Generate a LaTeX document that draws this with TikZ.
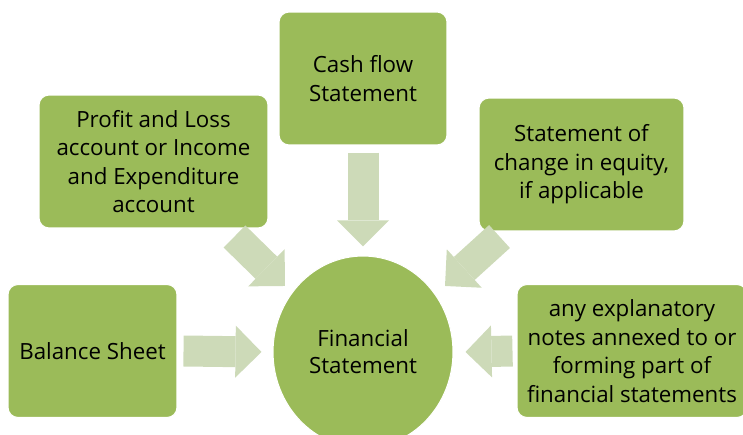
\documentclass[tikz,border=0pt]{standalone}
\usepackage{fontspec}
\setmainfont{Open Sans}
\usetikzlibrary{shapes.geometric,arrows.meta}

\definecolor{boxgreen}{HTML}{9BBB59}
\definecolor{arrowgreen}{HTML}{CDDAB8}

\tikzset{
  stmtbox/.style={draw=white, line width=0.6pt, fill=boxgreen, rounded corners=0.2cm,
    align=center, inner sep=0pt, minimum height=2.66cm,
    font=\fontsize{12.7}{16.2}\selectfont},
  blockarrow/.style={draw=arrowgreen, line width=0.62cm,
    -{Triangle[length=0.52cm,width=1.04cm,line width=0pt]}}
}

\begin{document}
\begin{tikzpicture}[x=0.02cm, y=-0.02cm]
  \useasboundingbox (0,0) rectangle (743,435);

  % Centre
  \node[ellipse, draw=white, line width=0.6pt, fill=boxgreen, inner sep=0pt,
    minimum width=3.6cm, minimum height=3.84cm, align=center,
    font=\fontsize{12.7}{15.4}\selectfont] (fs) at (363,352) {Financial\\Statement};

  % Boxes
  \node[stmtbox, minimum width=3.38cm] (bs) at (92.5,351) {Balance Sheet};
  \node[stmtbox, minimum width=4.58cm] (pl) at (153.5,161.5)
    {Profit and Loss\\account or Income\\and Expenditure\\account};
  \node[stmtbox, minimum width=3.36cm] (cf) at (363,78.5) {Cash flow\\Statement};
  \node[stmtbox, minimum width=4.1cm] (sc) at (581.5,164.5)
    {Statement of\\change in equity,\\if applicable};
  \node[stmtbox, minimum width=4.6cm] (ex) at (632,351)
    {any explanatory\\notes annexed to or\\forming part of\\financial statements};

  % Arrows
  \draw[blockarrow] ([xshift=0.12cm]bs.east) -- ([xshift=-0.22cm]fs.west);
  \draw[blockarrow] ([xshift=-0.08cm]ex.west) -- ([xshift=0.24cm]fs.east);
  \draw[blockarrow] ([yshift=-0.14cm]cf.south) -- ([yshift=0.18cm]fs.north);
  \draw[blockarrow] ([shift={(-34,8)}]pl.south east) -- ([shift={(-12,0)}]fs.135);
  \draw[blockarrow] ([shift={(21,5)}]sc.south west) -- ([shift={(16,0)}]fs.45);
\end{tikzpicture}
\end{document}
